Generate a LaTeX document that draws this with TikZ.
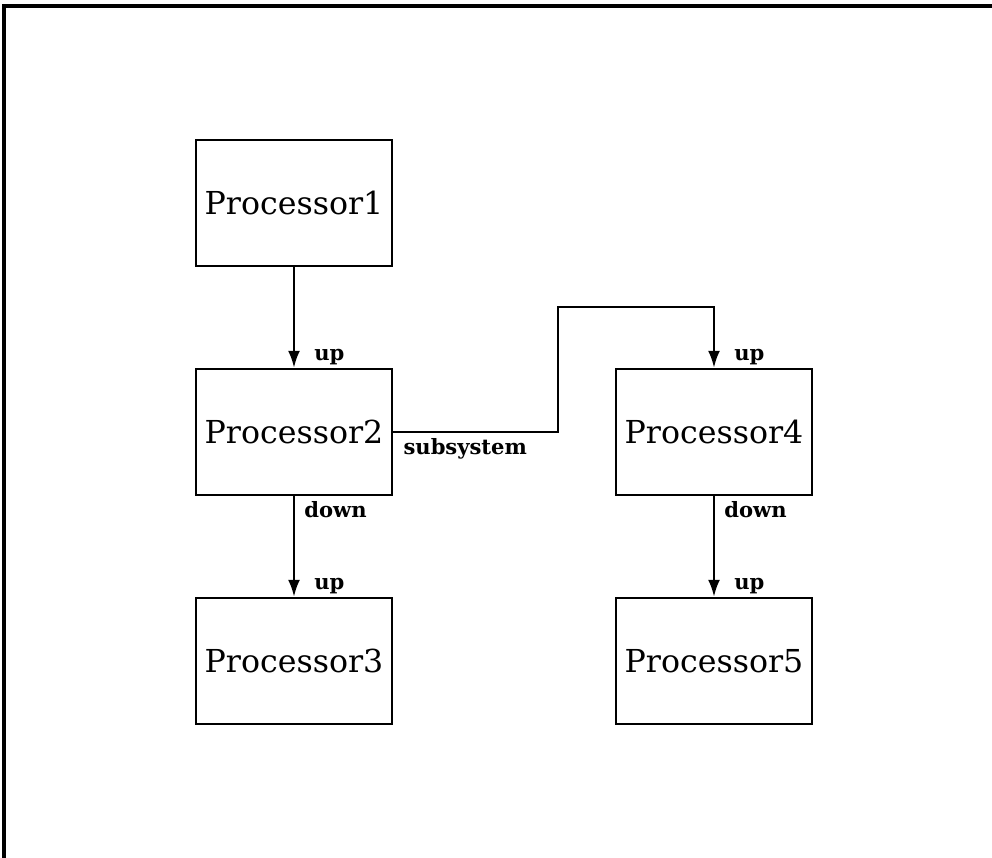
\documentclass[tikz,border=0pt]{standalone}
\usepackage{fontspec}
\setmainfont{DejaVu Serif}
\usetikzlibrary{arrows.meta}

\tikzset{
  procbox/.style={draw, line width=1.4pt, minimum width=3.92cm, minimum height=2.52cm,
    inner sep=0pt, font=\fontsize{18}{20}\selectfont},
  portlbl/.style={inner sep=0pt, font=\bfseries\fontsize{12}{14}\selectfont},
  link/.style={line width=1.4pt, -{Latex[length=0.34cm,width=0.24cm]}}
}

\begin{document}
\begin{tikzpicture}[x=0.02cm, y=-0.02cm]
    \useasboundingbox (0,0) rectangle (992,858);
    % frame of the page
    \draw[line width=2.2pt] (4,858) -- (4,6) -- (992,6);

    \node[procbox] (p1) at (294,203) {Processor1};
    \node[procbox] (p2) at (294,432) {Processor2};
    \node[procbox] (p3) at (294,661) {Processor3};
    \node[procbox] (p4) at (714,432) {Processor4};
    \node[procbox] (p5) at (714,661) {Processor5};
    \coordinate (bend) at (558,307);

    \draw[link] (p1.south) -- (p2.north);
    \draw[link] (p2.south) -- (p3.north);
    \draw[link] (p4.south) -- (p5.north);
    \draw[link] (p2.east) -| (bend) -| (p4.north);

    \node[portlbl, anchor=south west] (u2) at ([xshift=0.4cm,yshift=0.06cm]p2.north) {up};
    \node[portlbl, anchor=south west] (u3) at ([xshift=0.4cm,yshift=0.06cm]p3.north) {up};
    \node[portlbl, anchor=south west] (u4) at ([xshift=0.4cm,yshift=0.06cm]p4.north) {up};
    \node[portlbl, anchor=south west] (u5) at ([xshift=0.4cm,yshift=0.06cm]p5.north) {up};
    \node[portlbl, anchor=north west] (d2) at ([xshift=0.2cm,yshift=-0.1cm]p2.south) {down};
    \node[portlbl, anchor=north west] (d4) at ([xshift=0.2cm,yshift=-0.1cm]p4.south) {down};
    \node[portlbl, anchor=north west] (sub) at ([xshift=0.2cm,yshift=-0.12cm]p2.east) {subsystem};
\end{tikzpicture}
\end{document}
